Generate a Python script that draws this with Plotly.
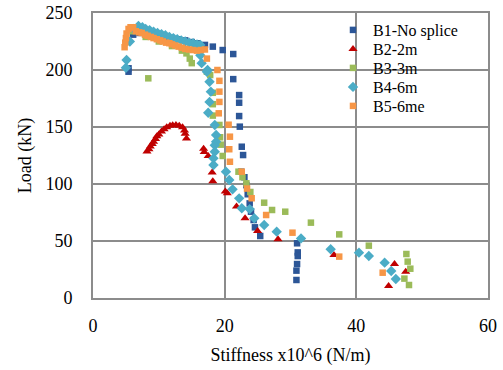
import plotly.graph_objects as go

# B1-No splice (stiffness x10^6 N/m, load kN)
b1_x = [5.4, 5.4, 6.1, 7.0, 8.0, 9.0, 10.0, 11.0, 12.0, 13.0, 14.0, 15.0, 15.8, 17.0, 18.2, 19.7, 21.3,
        21.3, 22.2, 22.2, 22.2, 22.3, 22.6, 22.8, 22.5, 23.0, 23.3, 23.5, 23.8, 24.0, 24.4, 24.6, 25.4,
        31.0, 31.1, 31.1, 31.0, 30.9, 30.9]
b1_y = [198.5, 201.5, 231, 232.5, 232, 231, 230, 229, 228, 227, 226, 224.5, 223.4, 222, 220.5, 217.5, 214,
        192, 178, 171.3, 159.6, 150.3, 132.7, 125.4, 110.8, 105.9, 99, 91, 83, 75.7, 68.4, 62, 54.4,
        48, 40, 36.8, 29.8, 24, 15.8]

# B2-2m
b2_x = [8.2, 8.5, 8.7, 9.0, 9.2, 9.5, 9.7, 10.0, 10.4, 10.8, 11.2, 11.7, 12.1, 12.6, 13.1, 13.6, 13.9, 14.0, 14.2,
        16.8, 16.9, 17.5, 18.1, 18.2, 20.1, 20.4, 21.8, 23.1, 25.0, 28.1, 36.6, 45.8, 47.5, 44.9]
b2_y = [128.4, 130.5, 133, 135, 137, 139.5, 141.8, 143.5, 146, 148, 149.7, 151, 151.5, 151.8, 151, 149.7, 147, 144, 140,
        131, 128, 124.5, 110, 102.5, 93.5, 91.8, 80.3, 70, 58.8, 51.5, 37.7, 29.8, 23, 10.5]

# B3-3m
b3_x = [8.4, 6.0, 8.0, 10.0, 12.0, 13.5, 14.2, 14.7, 15.0, 17.3, 17.8, 18.2, 18.2, 18.2, 19.2, 19.3, 19.4, 19.7,
        22.1, 22.7, 23.3, 23.9, 26.0, 27.2, 29.2, 33.1, 37.4, 41.9, 47.6, 47.8, 48.2, 47.3, 48.0]
b3_y = [192.7, 234, 229, 225, 221, 217, 214.6, 210, 206, 198.5, 195.6, 180, 170, 160, 151.8, 141, 134.5, 124.6,
        110.8, 106, 100.6, 93, 83.6, 77.2, 75.7, 66.1, 55.8, 45.9, 38.6, 31.9, 25.7, 17, 11.4]

# B4-6m
b4_x = [5.0, 5.1, 5.6, 6.2, 6.9, 7.5, 8.0, 8.6, 9.2, 9.8, 10.4, 11.0, 11.6, 12.2, 12.8, 13.4, 14.0, 14.6, 15.2,
        15.8, 16.3, 16.3, 16.5, 17.4, 17.3, 17.7, 17.9, 17.7, 17.5, 18.5, 18.7, 18.7, 18.5, 18.5, 18.3, 18.3,
        20.2, 20.7, 21.2, 22.2, 22.6, 23.8, 24.5, 26.0, 27.9, 31.6, 36.1, 40.4, 41.9, 44.3, 45.3, 46.0]
b4_y = [202, 208.8, 225, 236, 238.6, 237.5, 236, 235, 233.5, 232.5, 231.5, 230.5, 229, 228, 227, 226, 225, 224, 223.5,
        222.5, 222, 213, 206, 200, 198.5, 189.7, 181, 172, 162.5, 151.8, 143, 137, 134, 128.3, 122.5, 116.7,
        110.8, 103.5, 95.3, 87.4, 78.7, 78, 70, 64.1, 58.2, 52.3, 42.7, 39.8, 36.8, 31, 23.7, 16.7]

# B5-6me
b5_x = [4.8, 4.9, 5.0, 5.1, 5.4, 5.7, 6.1, 6.5, 7.0, 7.4, 7.9, 8.3, 8.8, 9.2, 9.7, 10.2, 10.6, 11.1, 11.6, 12.0,
        12.5, 13.0, 13.5, 14.0, 14.6, 15.2, 15.8, 16.4, 17.0, 17.3, 18.9, 19.2, 19.2, 19.2, 19.1, 20.6, 20.8,
        20.7, 20.8, 22.6, 23.4, 24.1, 26.3, 30.3, 37.4, 44.0]
b5_y = [220, 224, 228, 232, 236, 237.5, 237.5, 234, 233, 232.5, 231, 230, 229, 228, 227, 226, 225, 224, 223.5, 222.5,
        221.5, 220.5, 219.5, 218.5, 218, 217.5, 217, 217.5, 218, 210, 200, 190.5, 181, 172, 162, 152, 141.5,
        130.5, 119.5, 110.8, 96, 87.5, 72.8, 57.3, 36.3, 22.2]

names = ["B1-No splice", "B2-2m", "B3-3m", "B4-6m", "B5-6me"]
xs = [b1_x, b2_x, b3_x, b4_x, b5_x]
ys = [b1_y, b2_y, b3_y, b4_y, b5_y]
colors = ["#2C5697", "#C00000", "#9BBB59", "#4BACC6", "#F79646"]
symbols = ["square", "triangle-up", "square", "diamond", "square"]
sizes = [6.5, 8, 6.5, 8, 6.5]

FONT = "Liberation Serif"
GRID = "#8C8C8C"

W, H = 503, 370
ML, MR, MT, MB = 93, 15, 13, 72
plot_h = H - MT - MB
plot_w = W - ML - MR

fig = go.Figure()
legend_keys = ["legend", "legend2", "legend3", "legend4", "legend5"]
for n, x, y, c, s, sz, lk in zip(names, xs, ys, colors, symbols, sizes, legend_keys):
    fig.add_trace(go.Scatter(x=x, y=y, mode="markers", name=n, legend=lk,
                             marker=dict(color=c, symbol=s, size=sz, line=dict(width=0))))

# legend rows (pixel centres in the chart), each as its own legend so row spacing matches
row_py = [30, 49, 68, 87, 106]
leg_left_px = 333
legend_layout = {}
for lk, py in zip(legend_keys, row_py):
    legend_layout[lk] = dict(x=(leg_left_px - ML) / plot_w, xanchor="left",
                             y=(H - MB - py) / plot_h, yanchor="middle",
                             bgcolor="rgba(0,0,0,0)", borderwidth=0,
                             font=dict(family=FONT, size=16, color="black"),
                             itemwidth=30)

fig.update_layout(
    width=W, height=H,
    margin=dict(l=ML, r=MR, t=MT, b=MB),
    paper_bgcolor="white", plot_bgcolor="white",
    font=dict(family=FONT, size=18, color="black"),
    showlegend=True,
    **legend_layout,
)
# white legend area covering the gridlines
fig.add_shape(type="rect", xref="paper", yref="paper", layer="between",
              x0=(348 - ML) / plot_w, x1=(480 - ML) / plot_w,
              y0=(H - MB - 115) / plot_h, y1=1,
              fillcolor="white", line=dict(width=0))

fig.update_xaxes(range=[0, 60], dtick=20, tick0=0, showgrid=True, gridcolor=GRID, gridwidth=2,
                 showline=True, linecolor=GRID, linewidth=2, mirror=True, zeroline=False,
                 ticks="", ticklabelstandoff=10, automargin=False,
                 tickfont=dict(family=FONT, size=18),
                 title=dict(text="Stiffness x10^6 (N/m)", standoff=14, font=dict(family=FONT, size=18)))
fig.update_yaxes(range=[0, 250], dtick=50, tick0=0, showgrid=True, gridcolor=GRID, gridwidth=2,
                 showline=True, linecolor=GRID, linewidth=2, mirror=True, zeroline=False,
                 ticks="", ticklabelstandoff=15, automargin=False,
                 tickfont=dict(family=FONT, size=18),
                 title=dict(text="Load (kN)", standoff=9, font=dict(family=FONT, size=18)))

fig.write_html("out.html", config={"displayModeBar": False},
               post_script="document.body.style.margin='0';document.body.style.padding='0';")
